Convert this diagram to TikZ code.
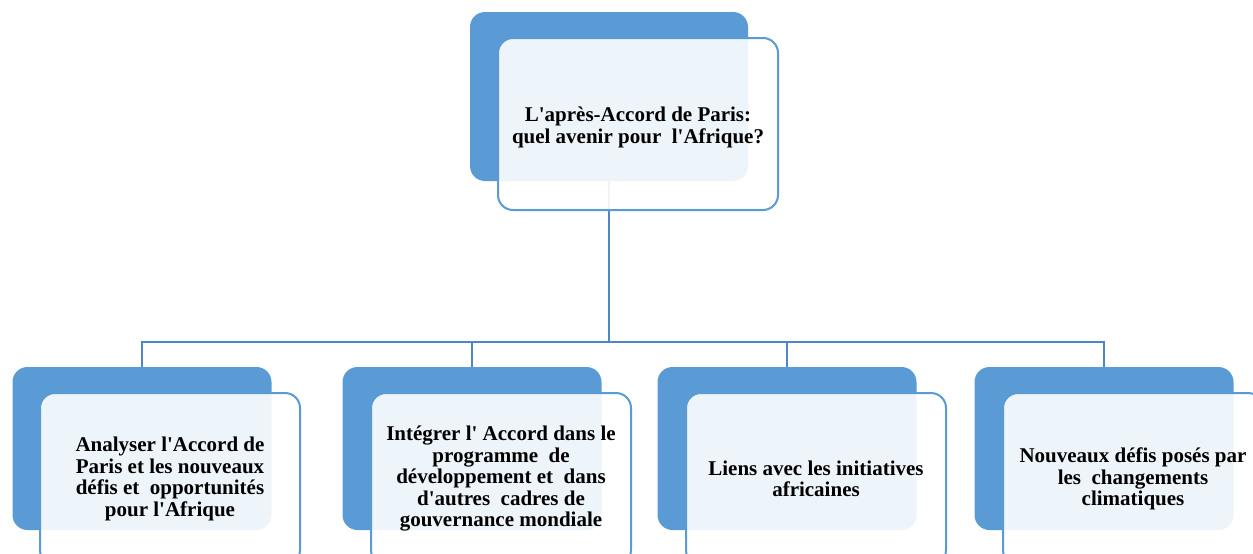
\documentclass[tikz,border=0pt]{standalone}
\usepackage{fontspec}
\setmainfont{Liberation Serif}[Ligatures=TeXOff]
\definecolor{boxblue}{HTML}{5B9BD5}
\definecolor{lineblue}{HTML}{4F87C4}
\begin{document}
\begin{tikzpicture}[x=1pt,y=-1pt,
  backbox/.style={draw=none,fill=boxblue,rounded corners=15pt,inner sep=0pt},
  frontbox/.style={draw=boxblue,line width=2pt,fill=white,fill opacity=0.9,text opacity=1,
    rounded corners=15pt,inner sep=0pt,align=center,
    font=\fontsize{21}{21.5}\selectfont\bfseries},
  toptext/.style={inner sep=0pt,align=center,font=\fontsize{21}{22}\selectfont\bfseries},
  link/.style={draw=lineblue,line width=2pt}]
\useasboundingbox (0,0) rectangle (1253,554);
\clip (0,0) rectangle (1253,554);
\fill[white] (0,0) rectangle (1253,554);
% top
\node (tb) [backbox,minimum width=278pt,minimum height=169pt] at (609,96.5) {};
% connectors
\coordinate (j) at (609,342);
\node (b1) [backbox,minimum width=259pt,minimum height=163pt] at (142,448.5) {};
\node (b2) [backbox,minimum width=259pt,minimum height=163pt] at (472,448.5) {};
\node (b3) [backbox,minimum width=259pt,minimum height=163pt] at (787,448.5) {};
\node (b4) [backbox,minimum width=259pt,minimum height=163pt] at (1104,448.5) {};
\draw[link] (tb.south) -- (j);
\draw[link] (b1.north) |- (j);
\draw[link] (b4.north) |- (j);
\draw[link] (b2.north) -- (b2.north |- j);
\draw[link] (b3.north) -- (b3.north |- j);
\node (tf) [frontbox,minimum width=280pt,minimum height=172pt] at (638,124) {};
\node (tt) [toptext] at (638,127)
  {L'après-Accord de Paris:\\quel avenir pour\ \ l'Afrique?};
\node (f1) [frontbox,minimum width=260pt,minimum height=172pt] at (170,479)
  {Analyser l'Accord de\\Paris et les nouveaux\\défis et\ \ opportunités\\pour l'Afrique};
\node (f2) [frontbox,minimum width=260pt,minimum height=172pt] at (501,479)
  {Intégrer l' Accord dans le\\programme\ \ de\\développement et\ \ dans\\d'autres\ \ cadres de\\gouvernance mondiale};
\node (f3) [frontbox,minimum width=260pt,minimum height=172pt] at (816,479)
  {Liens avec les initiatives\\africaines};
\node (f4) [frontbox,minimum width=260pt,minimum height=172pt] at (1133,479)
  {Nouveaux défis posés par\\les\ \ changements\\climatiques};
\end{tikzpicture}
\end{document}
